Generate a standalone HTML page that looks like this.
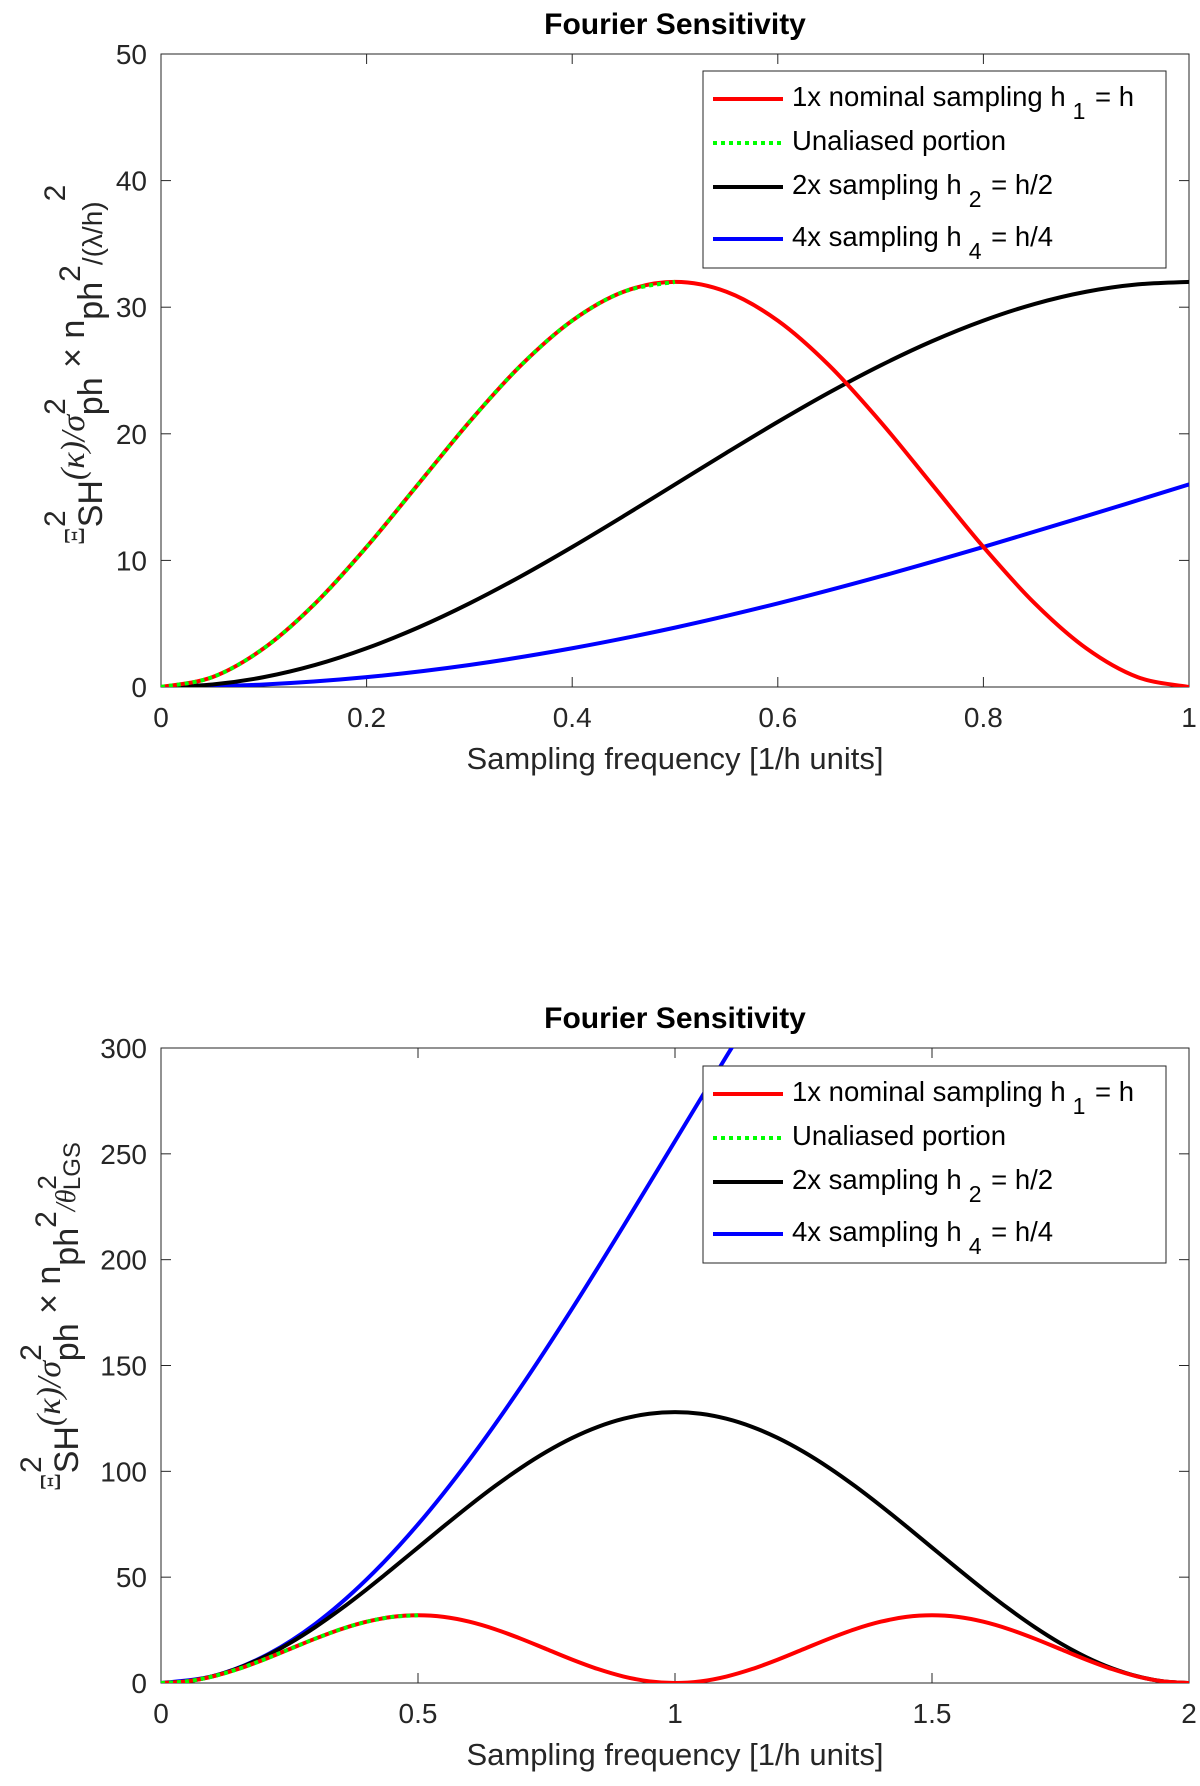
<!DOCTYPE html>
<html><head><meta charset="utf-8"><style>
html,body{margin:0;padding:0;background:#fff;}
svg{display:block;font-family:"Liberation Sans",sans-serif;}
</style></head><body>
<svg id="fig" width="1200" height="1786" viewBox="0 0 1200 1786"></svg>
<script>
// ---- data (top panel) ----
const topRedX=[0,.05,.1,.15,.2,.25,.3,.35,.4,.45,.5,.55,.6,.65,.7,.75,.8,.85,.9,.95,1];
const topRedY=[0,0.78,3.06,6.60,11.06,16,20.94,25.40,28.94,31.22,32,31.22,28.94,25.40,20.94,16,11.06,6.60,3.06,0.78,0];
const topGreenX=[0,.05,.1,.15,.2,.25,.3,.35,.4,.45,.5];
const topGreenY=[0,0.78,3.06,6.60,11.06,16,20.94,25.40,28.94,31.22,32];
const topBlackX=[0,.05,.1,.15,.2,.25,.3,.35,.4,.45,.5,.55,.6,.65,.7,.75,.8,.85,.9,.95,1];
const topBlackY=[0,.20,.78,1.74,3.06,4.69,6.60,8.74,11.06,13.50,16,18.50,20.94,23.26,25.40,27.31,28.94,30.26,31.22,31.80,32];
const topBlueX=[0,.1,.2,.3,.4,.5,.6,.7,.8,.9,1];
const topBlueY=[0,.20,.78,1.74,3.06,4.69,6.60,8.74,11.06,13.50,16];
const topXTicks=[0,0.2,0.4,0.6,0.8,1];
const topXTickLabels=["0","0.2","0.4","0.6","0.8","1"];
const topYTicks=[0,10,20,30,40,50];
const topYTickLabels=["0","10","20","30","40","50"];
// ---- data (bottom panel) ----
const botRedX=[0,.05,.1,.15,.2,.25,.3,.35,.4,.45,.5,.55,.6,.65,.7,.75,.8,.85,.9,.95,1,1.05,1.1,1.15,1.2,1.25,1.3,1.35,1.4,1.45,1.5,1.55,1.6,1.65,1.7,1.75,1.8,1.85,1.9,1.95,2];
const botRedY=[0,0.78,3.06,6.60,11.06,16,20.94,25.40,28.94,31.22,32,31.22,28.94,25.40,20.94,16,11.06,6.60,3.06,0.78,0,0.78,3.06,6.60,11.06,16,20.94,25.40,28.94,31.22,32,31.22,28.94,25.40,20.94,16,11.06,6.60,3.06,0.78,0];
const botGreenX=[0,.05,.1,.15,.2,.25,.3,.35,.4,.45,.5];
const botGreenY=[0,0.78,3.06,6.60,11.06,16,20.94,25.40,28.94,31.22,32];
const botBlackX=botRedX;
const botBlackY=[0,.79,3.14,6.98,12.22,18.75,26.38,34.94,44.22,53.99,64,74.01,83.78,93.06,101.62,109.25,115.78,121.02,124.86,127.21,128,127.21,124.86,121.02,115.78,109.25,101.62,93.06,83.78,74.01,64,53.99,44.22,34.94,26.38,18.75,12.22,6.98,3.14,.79,0];
const botBlueX=[0,.1,.2,.3,.4,.5,.6,.7,.8,.9,1,1.1,1.2];
const botBlueY=[0,3.15,12.54,27.90,48.90,74.96,105.52,139.78,176.90,215.96,256,296.04,335.10];
const botXTicks=[0,0.5,1,1.5,2];
const botXTickLabels=["0","0.5","1","1.5","2"];
const botYTicks=[0,50,100,150,200,250,300];
const botYTickLabels=["0","50","100","150","200","250","300"];
const legendLabels=[["1x nominal sampling h","1"," = h"],["Unaliased portion","",""],["2x sampling h","2"," = h/2"],["4x sampling h","4"," = h/4"]];

const NS="http://www.w3.org/2000/svg";
const svg=document.getElementById('fig');
function mk(tag,attrs,parent){const e=document.createElementNS(NS,tag);for(const k in attrs)e.setAttribute(k,attrs[k]);(parent||svg).appendChild(e);return e;}
function pathFrom(xs,ys,sx,sy){
  const p=xs.map((x,i)=>[sx(x),sy(ys[i])]);
  let d="M"+p[0][0].toFixed(2)+","+p[0][1].toFixed(2);
  for(let i=0;i<p.length-1;i++){
    const p0=p[Math.max(0,i-1)],p1=p[i],p2=p[i+1],p3=p[Math.min(p.length-1,i+2)];
    const c1=[p1[0]+(p2[0]-p0[0])/6,p1[1]+(p2[1]-p0[1])/6];
    const c2=[p2[0]-(p3[0]-p1[0])/6,p2[1]-(p3[1]-p1[1])/6];
    d+=" C"+c1.map(v=>v.toFixed(2)).join(",")+" "+c2.map(v=>v.toFixed(2)).join(",")+" "+p2.map(v=>v.toFixed(2)).join(",");
  }
  return d;
}
function panel(cfg){
  const L=161,R=1189,T=cfg.top,B=cfg.bottom;
  const sx=x=>L+(x-cfg.xmin)/(cfg.xmax-cfg.xmin)*(R-L);
  const sy=y=>B-(y-cfg.ymin)/(cfg.ymax-cfg.ymin)*(B-T);
  const g=mk('g',{});
  
  
  const clipId=cfg.name+'-clip';
  const cp=mk('clipPath',{id:clipId},g);mk('rect',{x:L,y:T,width:R-L,height:B-T},cp);
  const t=mk('text',{x:(L+R)/2,y:T-20,'text-anchor':'middle','font-size':30,'font-weight':'bold',fill:'#000'},g);
  t.textContent='Fourier Sensitivity';
  
  
  cfg.xTicks.forEach((v,i)=>{
    const x=sx(v);
    mk('line',{x1:x,y1:B,x2:x,y2:B-10,stroke:'#262626','stroke-width':1},g);
    mk('line',{x1:x,y1:T,x2:x,y2:T+10,stroke:'#262626','stroke-width':1},g);
    const tl=mk('text',{x:x,y:B+40,'text-anchor':'middle','font-size':28,fill:'#262626'},g);
    tl.textContent=cfg.xTickLabels[i];
    
    
  });
  cfg.yTicks.forEach((v,i)=>{
    const y=sy(v);
    mk('line',{x1:L,y1:y,x2:L+10,y2:y,stroke:'#262626','stroke-width':1},g);
    mk('line',{x1:R,y1:y,x2:R-10,y2:y,stroke:'#262626','stroke-width':1},g);
    const tl=mk('text',{x:L-14,y:y+10,'text-anchor':'end','font-size':28,fill:'#262626'},g);
    tl.textContent=cfg.yTickLabels[i];
    
    
  });
  mk('rect',{x:L,y:T,width:R-L,height:B-T,fill:'none',stroke:'#262626','stroke-width':1},g);
  const cg=mk('g',{'clip-path':'url(#'+clipId+')'},g);
  const series=[[cfg.blueX,cfg.blueY,'#0000ff',null,'blue-line'],[cfg.blackX,cfg.blackY,'#000','','black-line'],[cfg.redX,cfg.redY,'#ff0000',null,'red-line'],[cfg.greenX,cfg.greenY,'#00ff00','4 4','green-dotted-line']];
  series.forEach(s=>{
    const p=mk('path',{d:pathFrom(s[0],s[1],sx,sy),fill:'none',stroke:s[2],'stroke-width':4,'stroke-linejoin':'round'},cg);
    if(s[3])p.setAttribute('stroke-dasharray',s[3]);
    
    
  });
  const xl=mk('text',{x:(L+R)/2,y:B+82,'text-anchor':'middle','font-size':31,fill:'#262626'},g);
  xl.textContent='Sampling frequency [1/h units]';
  
  
  const yl=mk('text',{transform:'translate('+cfg.ylabX+','+cfg.ylabStart+') rotate(-90)','text-anchor':'start','font-size':34,fill:'#262626'},g);
  
  
  yl.innerHTML='<tspan font-family="Liberation Serif" font-size="28">Ξ</tspan>'+
   '<tspan font-size="30" dy="-19">2</tspan><tspan dx="-17" dy="37">SH</tspan>'+
   '<tspan dy="-18" font-family="Liberation Serif" font-style="italic">(κ)/σ</tspan>'+
   '<tspan font-size="30" dy="-19">2</tspan><tspan dx="-17" dy="37">ph</tspan>'+
   '<tspan dy="-18"> × n</tspan><tspan dy="18">ph</tspan><tspan font-size="30" dy="-22">2</tspan>'+
   cfg.ylabTail;
  const lx=703,ly=cfg.legTop,lw=463,lh=197;
  const lg=mk('g',{},g);
  
  
  mk('rect',{x:lx,y:ly,width:lw,height:lh,fill:'#fff',stroke:'#262626','stroke-width':1},lg);
  const offs=[25,69,113,165];
  const cols=['#ff0000','#00ff00','#000','#0000ff'];
  legendLabels.forEach((lab,i)=>{
    const y=ly+offs[i];
    const ln=mk('line',{x1:713,y1:y+3,x2:783,y2:y+3,stroke:cols[i],'stroke-width':4},lg);
    if(i===1)ln.setAttribute('stroke-dasharray','4 4');
    const tx=mk('text',{x:792,y:y+10,'font-size':27.5,fill:'#000'},lg);
    tx.innerHTML=lab[0]+(lab[1]?'<tspan font-size="23" dx="7" dy="13">'+lab[1]+'</tspan><tspan dx="2" dy="-13">'+lab[2]+'</tspan>':'');
    
    
  });
}
panel({name:'top-chart',top:54,bottom:687,legTop:71,xmin:0,xmax:1,ymin:0,ymax:50,
  xTicks:topXTicks,xTickLabels:topXTickLabels,yTicks:topYTicks,yTickLabels:topYTickLabels,
  redX:topRedX,redY:topRedY,greenX:topGreenX,greenY:topGreenY,blackX:topBlackX,blackY:topBlackY,blueX:topBlueX,blueY:topBlueY,
  ylabX:84,ylabStart:545,
  ylabTail:'<tspan font-size="28" dy="22">/(λ/h)</tspan><tspan font-size="30" dy="-37">2</tspan>'});
panel({name:'bottom-chart',top:1048,bottom:1683,legTop:1066,xmin:0,xmax:2,ymin:0,ymax:300,
  xTicks:botXTicks,xTickLabels:botXTickLabels,yTicks:botYTicks,yTickLabels:botYTickLabels,
  redX:botRedX,redY:botRedY,greenX:botGreenX,greenY:botGreenY,blackX:botBlackX,blackY:botBlackY,blueX:botBlueX,blueY:botBlueY,
  ylabX:60,ylabStart:1491,
  ylabTail:'<tspan font-size="28" dy="19" font-family="Liberation Serif" font-style="italic">/θ</tspan><tspan font-size="26" dy="-19">2</tspan><tspan font-size="24" dx="-15" dy="24">LGS</tspan>'});
</script>
</body></html>
